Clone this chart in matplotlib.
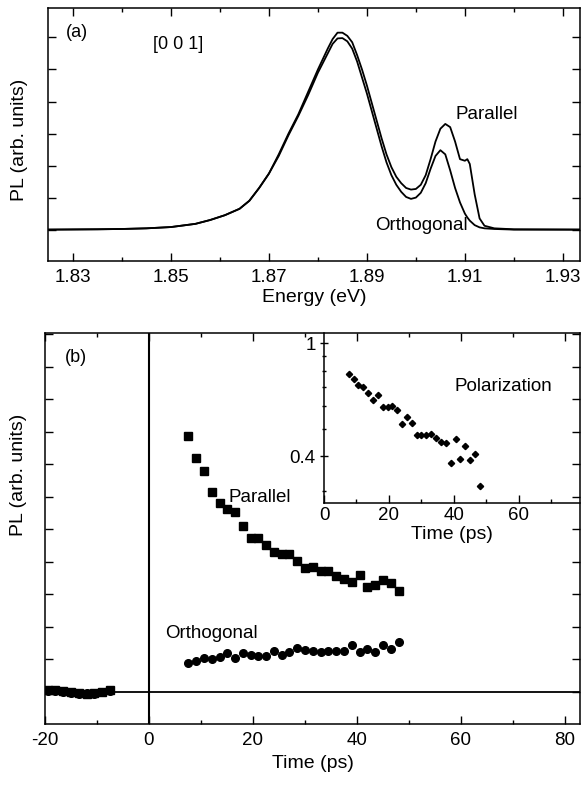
import matplotlib
matplotlib.use("Agg")
import matplotlib.pyplot as plt
from matplotlib.ticker import FixedLocator, FixedFormatter, MultipleLocator, NullFormatter

plt.rcParams['font.family'] = ['Liberation Sans', 'DejaVu Sans']
plt.rcParams['axes.unicode_minus'] = False

# (a) cw spectra
energy = [1.825, 1.835, 1.840, 1.845, 1.850, 1.855, 1.858, 1.861, 1.864, 1.866,
          1.868, 1.870, 1.872, 1.874, 1.876, 1.878, 1.880, 1.882, 1.883, 1.884,
          1.885, 1.886, 1.887, 1.888, 1.889, 1.890, 1.891, 1.892, 1.893, 1.894,
          1.895, 1.896, 1.897, 1.898, 1.899, 1.900, 1.901, 1.902, 1.903, 1.904,
          1.905, 1.906, 1.907, 1.908, 1.909, 1.910, 1.9105, 1.911, 1.912, 1.913,
          1.914, 1.916, 1.920, 1.934]
spec_parallel = [0, 0.01, 0.02, 0.04, 0.08, 0.18, 0.3, 0.45, 0.65, 0.9,
                 1.3, 1.75, 2.35, 3.0, 3.6, 4.3, 5.0, 5.65, 5.95, 6.15,
                 6.15, 6.05, 5.85, 5.45, 5.0, 4.5, 3.95, 3.4, 2.85, 2.35,
                 1.95, 1.65, 1.45, 1.3, 1.25, 1.27, 1.4, 1.7, 2.2, 2.75,
                 3.15, 3.3, 3.2, 2.75, 2.2, 2.15, 2.2, 2.05, 1.1, 0.35,
                 0.12, 0.04, 0.01, 0]
spec_orthogonal = [0, 0.01, 0.02, 0.04, 0.08, 0.18, 0.3, 0.45, 0.65, 0.9,
                   1.3, 1.75, 2.3, 2.95, 3.55, 4.2, 4.9, 5.5, 5.8, 5.97,
                   5.98, 5.88, 5.65, 5.25, 4.75, 4.25, 3.7, 3.15, 2.6, 2.1,
                   1.7, 1.4, 1.18, 1.02, 0.96, 1.0, 1.15, 1.45, 1.9, 2.3,
                   2.48, 2.35, 1.85, 1.3, 0.85, 0.5, 0.38, 0.28, 0.14, 0.07,
                   0.04, 0.02, 0.0, 0]

# (b) time resolved
t_neg = [-19.5, -18.0, -16.5, -15.0, -13.5, -12.0, -10.5, -9.0, -7.5]
par_neg = [0.05, 0.05, 0.04, 0.0, -0.05, -0.06, -0.04, 0.0, 0.05]
orth_neg = [0.03, 0.02, 0.0, -0.03, -0.08, -0.03, -0.06, -0.02, 0.04]

t_pos = [7.6, 9.1, 10.6, 12.1, 13.6, 15.1, 16.6, 18.1, 19.6, 21.0,
         22.5, 24.0, 25.5, 27.0, 28.5, 30.0, 31.5, 33.0, 34.5, 36.0,
         37.5, 39.0, 40.5, 42.0, 43.5, 45.0, 46.5, 48.0]
par_pos = [7.88, 7.2, 6.78, 6.14, 5.82, 5.61, 5.54, 5.11, 4.74, 4.74,
           4.51, 4.31, 4.24, 4.23, 4.02, 3.80, 3.85, 3.72, 3.72, 3.56,
           3.47, 3.38, 3.58, 3.21, 3.30, 3.44, 3.34, 3.10]
orth_pos = [0.90, 0.94, 1.03, 1.00, 1.06, 1.18, 1.05, 1.20, 1.12, 1.11,
            1.11, 1.26, 1.12, 1.22, 1.34, 1.28, 1.26, 1.23, 1.26, 1.25,
            1.25, 1.44, 1.21, 1.31, 1.21, 1.44, 1.31, 1.52]
polarization = [0.777, 0.750, 0.714, 0.699, 0.669, 0.630, 0.657, 0.597, 0.597, 0.600,
                0.581, 0.519, 0.550, 0.524, 0.474, 0.474, 0.474, 0.477, 0.465, 0.449,
                0.445, 0.379, 0.459, 0.392, 0.434, 0.386, 0.406, 0.313]

W, H = 581, 785
fig = plt.figure(figsize=(W / 100, H / 100), dpi=100)

def frame(ax):
    for s in ax.spines.values():
        s.set_linewidth(1.1)
    ax.tick_params(which='both', direction='in', top=True, right=True,
                   labelsize=13.5, width=1.0, pad=6)
    ax.tick_params(which='major', length=6)
    ax.tick_params(which='minor', length=3)

# top panel
ax1 = fig.add_axes([48 / W, 1 - 261 / H, 532 / W, 253 / H])
ax1.plot(energy, spec_parallel, color='black', lw=1.3)
ax1.plot(energy, spec_orthogonal, color='black', lw=1.3)
ax1.set_xlim(1.8249, 1.9335)
ax1.set_ylim(-0.98, 6.92)
ax1.xaxis.set_minor_locator(MultipleLocator(0.01))
ax1.set_xticks([1.83, 1.85, 1.87, 1.89, 1.91, 1.93])
ax1.set_xticklabels(['1.83', '1.85', '1.87', '1.89', '1.91', '1.93'])
ax1.yaxis.set_major_locator(MultipleLocator(1))
frame(ax1)
ax1.tick_params(labelleft=False)
ax1.set_xlabel('Energy (eV)', fontsize=14, labelpad=2)
ax1.set_ylabel('PL (arb. units)', fontsize=14)
ax1.yaxis.set_label_coords(-0.038, 0.478)
ax1.text(1.8308, 6.14, '(a)', fontsize=13, va='center', ha='center')
ax1.text(1.8514, 5.77, '[0 0 1]', fontsize=13, va='center', ha='center')
ax1.text(1.9145, 3.58, 'Parallel', fontsize=13.5, va='center', ha='center')
ax1.text(1.9012, 0.14, 'Orthogonal', fontsize=13.5, va='center', ha='center')

# bottom panel
ax2 = fig.add_axes([45 / W, 1 - 724 / H, 535 / W, 391 / H])
ax2.axhline(0, color='black', lw=1.3)
ax2.axvline(0, color='black', lw=1.5)
ax2.plot(t_neg, par_neg, 's', color='black', ms=5.5)
ax2.plot(t_neg, orth_neg, 'o', color='black', ms=5.5)
ax2.plot(t_pos, par_pos, 's', color='black', ms=5.5)
ax2.plot(t_pos, orth_pos, 'o', color='black', ms=5.5)
ax2.set_xlim(-20, 82.9)
ax2.set_ylim(-0.99, 11.04)
ax2.xaxis.set_major_locator(MultipleLocator(20))
ax2.xaxis.set_minor_locator(MultipleLocator(10))
ax2.yaxis.set_major_locator(MultipleLocator(1))
frame(ax2)
ax2.tick_params(labelleft=False)
ax2.set_xlabel('Time (ps)', fontsize=14, labelpad=4)
ax2.set_ylabel('PL (arb. units)', fontsize=14)
ax2.yaxis.set_label_coords(-0.034, 0.637)
ax2.text(-14.0, 10.3, '(b)', fontsize=13, va='center', ha='center')
ax2.text(15.2, 5.99, 'Parallel', fontsize=13.5, va='center', ha='left')
ax2.text(3.1, 1.8, 'Orthogonal', fontsize=13.5, va='center', ha='left')

# inset
ax3 = fig.add_axes([324 / W, 1 - 503 / H, 256 / W, 170 / H], facecolor='none')
ax3.plot(t_pos, polarization, 'D', color='black', ms=3.2)
ax3.set_yscale('log')
ax3.set_xlim(0, 78.8)
ax3.set_ylim(0.273, 1.088)
ax3.xaxis.set_major_locator(MultipleLocator(20))
ax3.xaxis.set_minor_locator(MultipleLocator(10))
ax3.yaxis.set_major_locator(FixedLocator([0.4, 1.0]))
ax3.yaxis.set_major_formatter(FixedFormatter(['0.4', '1']))
ax3.yaxis.set_minor_locator(FixedLocator([0.3, 0.5, 0.6, 0.7, 0.8, 0.9]))
ax3.yaxis.set_minor_formatter(NullFormatter())
ax3.spines['top'].set_visible(False)
ax3.spines['right'].set_visible(False)
for s in ('left', 'bottom'):
    ax3.spines[s].set_linewidth(1.1)
ax3.tick_params(which='both', labelsize=13.5, width=1.0, pad=3)
ax3.tick_params(axis='y', which='both', direction='inout')
ax3.tick_params(axis='x', which='both', direction='in')
ax3.tick_params(which='major', length=6)
ax3.tick_params(which='minor', length=3)
ax3.set_xlabel('Time (ps)', fontsize=14, labelpad=1)
ax3.text(55.1, 0.706, 'Polarization', fontsize=13.5, va='center', ha='center')

fig.savefig('out.png', dpi=100)
